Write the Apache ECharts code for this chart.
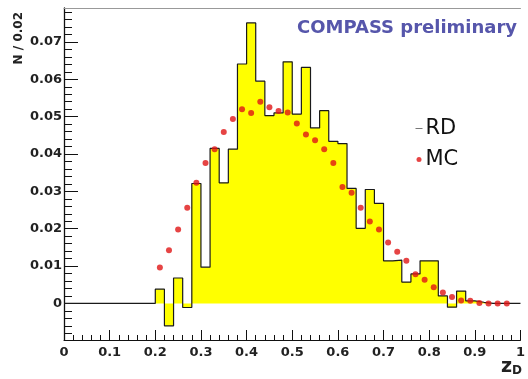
<!DOCTYPE html>
<html>
<head>
<meta charset="utf-8">
<script src="https://cdn.jsdelivr.net/npm/echarts@6/dist/echarts.min.js"></script>
<style>
html,body{margin:0;padding:0;background:#fff;}
#c{width:528px;height:379px;}
</style>
</head>
<body>
<div id="c"></div>
<script>
// Bin lower edges (width 0.02)
const binEdges = [0.00,0.02,0.04,0.06,0.08,0.10,0.12,0.14,0.16,0.18,
                  0.20,0.22,0.24,0.26,0.28,0.30,0.32,0.34,0.36,0.38,
                  0.40,0.42,0.44,0.46,0.48,0.50,0.52,0.54,0.56,0.58,
                  0.60,0.62,0.64,0.66,0.68,0.70,0.72,0.74,0.76,0.78,
                  0.80,0.82,0.84,0.86,0.88,0.90,0.92,0.94,0.96,0.98];
const histEnd = 1.0;
// RD histogram contents per bin
const rdValues = [0,0,0,0,0,0,0,0,0,0,
                  0.0038,-0.0060,0.0068,-0.0011,0.0321,0.0097,0.0415,0.0323,0.0413,0.0641,
                  0.0751,0.0595,0.0503,0.0510,0.0647,0.0507,0.0632,0.0470,0.0516,0.0434,
                  0.0428,0.0308,0.0201,0.0305,0.0268,0.0114,0.0116,0.0057,0.0079,0.0114,
                  0.0114,0.0020,-0.0010,0.0033,0.0007,0.0003,0,0,0,0];
// MC points at bin centres
const mcX = [0.21,0.23,0.25,0.27,0.29,0.31,0.33,0.35,0.37,0.39,
             0.41,0.43,0.45,0.47,0.49,0.51,0.53,0.55,0.57,0.59,
             0.61,0.63,0.65,0.67,0.69,0.71,0.73,0.75,0.77,0.79,
             0.81,0.83,0.85,0.87,0.89,0.91,0.93,0.95,0.97];
const mcValues = [0.0096,0.0142,0.0198,0.0256,0.0323,0.0376,0.0413,0.0459,0.0494,0.0520,
                  0.0510,0.0540,0.0525,0.0515,0.0511,0.0482,0.0452,0.0437,0.0413,0.0376,
                  0.0312,0.0296,0.0256,0.0219,0.0198,0.0163,0.0138,0.0114,0.0078,0.0063,
                  0.0043,0.0029,0.0017,0.0008,0.0007,0.0001,0.0000,0.0000,0.0000];
// Axis ticks
const yMajorTicks = [0,0.01,0.02,0.03,0.04,0.05,0.06,0.07];
const yMinorTicks = [-0.008,-0.006,-0.004,-0.002,0.002,0.004,0.006,0.008,
                     0.012,0.014,0.016,0.018,0.022,0.024,0.026,0.028,
                     0.032,0.034,0.036,0.038,0.042,0.044,0.046,0.048,
                     0.052,0.054,0.056,0.058,0.062,0.064,0.066,0.068,
                     0.072,0.074,0.076,0.078];
const yLabels = ['0','0.01','0.02','0.03','0.04','0.05','0.06','0.07'];
const xLabels = ['0','0.1','0.2','0.3','0.4','0.5','0.6','0.7','0.8','0.9','1'];
const yMin = -0.0098, yMax = 0.0791;

const rdData = binEdges.map((e,i)=>[e, rdValues[i]]);
rdData.push([histEnd, rdValues[rdValues.length-1]]);
const mcData = mcX.map((x,i)=>[x, mcValues[i]]);

const labelFont = {fontFamily:'DejaVu Sans', fontWeight:'bold', fontSize:13, color:'#222'};

const chart = echarts.init(document.getElementById('c'), null, {renderer:'canvas'});
chart.setOption({
  animation:false,
  backgroundColor:'#fff',
  grid:{left:64, top:8, width:464, height:332, containLabel:false},
  xAxis:[{
    type:'value', min:0, max:1, interval:0.1,
    axisLine:{show:true, onZero:false, lineStyle:{color:'#111', width:1}},
    axisTick:{show:true, inside:true, length:10, lineStyle:{color:'#111'}},
    minorTick:{show:true, splitNumber:5, length:5, lineStyle:{color:'#111'}},
    splitLine:{show:false},
    axisLabel:Object.assign({margin:6, formatter:(v)=>xLabels[Math.round(v*10)]}, labelFont)
  },{
    type:'value', min:0, max:1, position:'top', gridIndex:0,
    axisLine:{show:true, onZero:false, lineStyle:{color:'#999', width:1}},
    axisTick:{show:false}, axisLabel:{show:false}, splitLine:{show:false}
  }],
  yAxis:[{
    type:'value', min:yMin, max:yMax, position:'left',
    axisLine:{show:true, onZero:false, lineStyle:{color:'#111', width:1.3}},
    axisTick:{show:true, inside:true, length:14, customValues:yMajorTicks, lineStyle:{color:'#111'}},
    splitLine:{show:false},
    axisLabel:Object.assign({margin:2, customValues:yMajorTicks,
      formatter:(v)=>yLabels[Math.round(v*100)]}, labelFont)
  },{
    type:'value', min:yMin, max:yMax, position:'left',
    axisLine:{show:false},
    axisTick:{show:true, inside:true, length:8, customValues:yMinorTicks, lineStyle:{color:'#111'}},
    axisLabel:{show:false}, splitLine:{show:false}
  }],
  legend:{
    orient:'vertical', left:410, top:113, itemWidth:7, itemHeight:5, itemGap:10,
    textStyle:{fontFamily:'DejaVu Sans', fontSize:21, color:'#111', padding:[0,0,0,-2]},
    data:[
      {name:'RD', itemStyle:{opacity:0}, lineStyle:{color:'#777', width:1}},
      {name:'MC', icon:'circle'}
    ]
  },
  series:[{
    name:'RD', type:'line', step:'end', data:rdData,
    symbol:'none', xAxisIndex:0, yAxisIndex:0,
    lineStyle:{color:'#1a1a1a', width:1.2},
    itemStyle:{color:'#555'},
    areaStyle:{color:'#ffff00', opacity:1, origin:0},
    z:2
  },{
    name:'MC', type:'scatter', data:mcData, xAxisIndex:0, yAxisIndex:0,
    symbol:'circle', symbolSize:6,
    itemStyle:{color:'#e01515'},
    z:3
  }],
  graphic:[{
    type:'text', x:19, y:12, rotation:Math.PI/2,
    style:{text:'N / 0.02', fontFamily:'DejaVu Sans', fontWeight:'bold', fontSize:12,
      fill:'#222', align:'right', verticalAlign:'middle'}
  },{
    type:'text', x:297, y:28,
    style:{text:'COMPASS preliminary', fontFamily:'DejaVu Sans', fontWeight:'bold', fontSize:18,
      fill:'#5656ab', align:'left', verticalAlign:'middle'}
  },{
    type:'text', x:501, y:353,
    style:{text:'{z|z}{d|D}', align:'left', verticalAlign:'top',
      rich:{
        z:{fontFamily:'DejaVu Sans', fontWeight:'bold', fontSize:19, fill:'#222', verticalAlign:'bottom'},
        d:{fontFamily:'DejaVu Sans', fontWeight:'bold', fontSize:12, fill:'#222', padding:[12,0,0,0]}
      }}
  }]
});
</script>
</body>
</html>
